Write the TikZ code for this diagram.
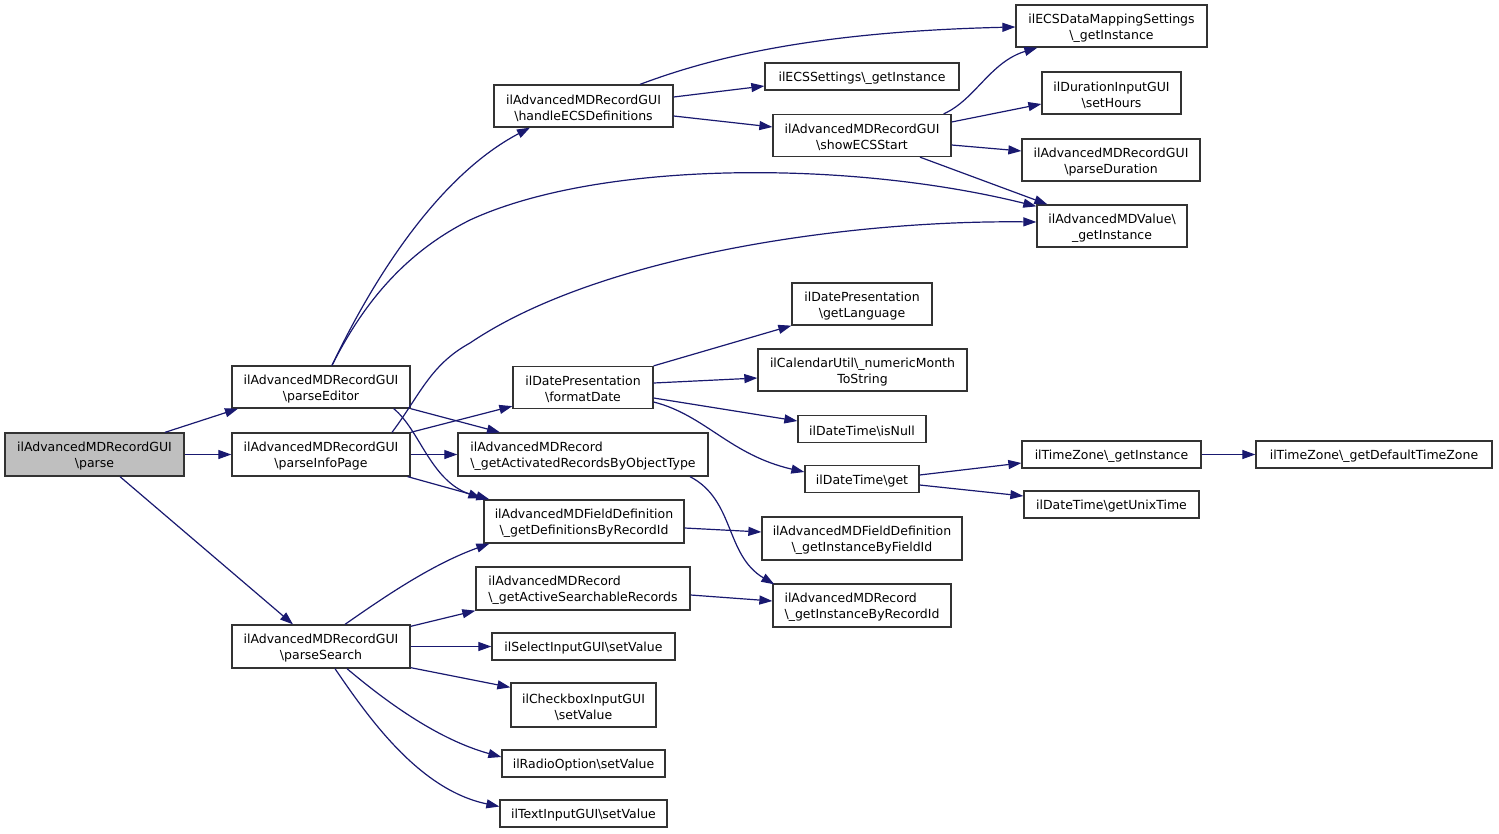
\documentclass[tikz,border=0pt]{standalone}
\usepackage{fontspec}
\setmainfont{DejaVu Sans}
\usetikzlibrary{arrows.meta,calc}
\definecolor{edgeblue}{RGB}{25,25,112}
\definecolor{rootgray}{RGB}{191,191,191}
\newcommand\bsl{\textbackslash}
\begin{document}
\begin{tikzpicture}[x=1pt,y=-1pt,
  boxtext/.style={inner sep=0pt, align=center, font=\fontsize{12.5}{16}\selectfont, text=black, yshift=-2pt},
  lboxtext/.style={boxtext, align=left},
  box/.style={draw=black!80, line width=1.3pt, rectangle, inner sep=0pt, label={[boxtext]center:{#1}}},
  lbox/.style={draw=black!80, line width=1.3pt, rectangle, inner sep=0pt, label={[lboxtext]center:{#1}}},
  call/.style={draw=edgeblue, line width=1.2pt, -{Triangle[length=13pt,width=9pt]}}
]
\fill[white] (0,0) rectangle (1499,833);
\useasboundingbox (0,0) rectangle (1499,833);

% nodes
\node[box={ilAdvancedMDRecordGUI\\\bsl parse}, fill=rootgray, minimum width=179pt, minimum height=43pt] (parse) at (94.5,454.5) {};
\node[box={ilAdvancedMDRecordGUI\\\bsl parseEditor}, minimum width=178pt, minimum height=42pt] (pEditor) at (321,387) {};
\node[box={ilAdvancedMDRecordGUI\\\bsl parseInfoPage}, minimum width=178pt, minimum height=43pt] (pInfo) at (321,454.5) {};
\node[box={ilAdvancedMDRecordGUI\\\bsl parseSearch}, minimum width=178pt, minimum height=43pt] (pSearch) at (321,646.5) {};
\node[box={ilAdvancedMDRecordGUI\\\bsl handleECSDefinitions}, minimum width=179pt, minimum height=42pt] (handleECS) at (583.5,106) {};
\node[box={ilECSSettings\bsl\_getInstance}, minimum width=194pt, minimum height=27pt] (ecss) at (862,76.5) {};
\node[box={ilAdvancedMDRecordGUI\\\bsl showECSStart}, minimum width=178pt, minimum height=42pt] (showECS) at (862,135.5) {};
\node[box={ilECSDataMappingSettings\\\bsl\_getInstance}, minimum width=191pt, minimum height=42pt] (ecsdm) at (1111.5,26) {};
\node[box={ilDurationInputGUI\\\bsl setHours}, minimum width=139pt, minimum height=42pt] (setHours) at (1111.5,93) {};
\node[box={ilAdvancedMDRecordGUI\\\bsl parseDuration}, minimum width=178pt, minimum height=42pt] (parseDuration) at (1111,160) {};
\node[box={ilAdvancedMDValue\bsl\\\_getInstance}, minimum width=150pt, minimum height=42pt] (mdvalue) at (1112,226) {};
\node[box={ilDatePresentation\\\bsl getLanguage}, minimum width=140pt, minimum height=42pt] (getLang) at (862,304) {};
\node[box={ilCalendarUtil\bsl\_numericMonth\\ToString}, minimum width=209pt, minimum height=42pt] (numMonth) at (862.5,370) {};
\node[box={ilDatePresentation\\\bsl formatDate}, minimum width=140pt, minimum height=42pt] (formatDate) at (583,387.5) {};
\node[box={ilDateTime\bsl isNull}, minimum width=128pt, minimum height=27pt] (isNull) at (862,429) {};
\node[box={ilDateTime\bsl get}, minimum width=114pt, minimum height=27pt] (dtget) at (862,479) {};
\node[box={ilTimeZone\bsl\_getInstance}, minimum width=179pt, minimum height=27pt] (tzget) at (1111.5,454.5) {};
\node[box={ilTimeZone\bsl\_getDefaultTimeZone}, minimum width=236pt, minimum height=27pt] (tzdefault) at (1374,454.5) {};
\node[box={ilDateTime\bsl getUnixTime}, minimum width=175pt, minimum height=27pt] (unixtime) at (1111.5,504.5) {};
\node[lbox={ilAdvancedMDRecord\\\bsl\_getActivatedRecordsByObjectType}, minimum width=250pt, minimum height=43pt] (getAct) at (583,454.5) {};
\node[box={ilAdvancedMDFieldDefinition\\\bsl\_getDefinitionsByRecordId}, minimum width=200pt, minimum height=43pt] (getDefs) at (584,521.5) {};
\node[box={ilAdvancedMDFieldDefinition\\\bsl\_getInstanceByFieldId}, minimum width=200pt, minimum height=43pt] (getInstField) at (862,538.5) {};
\node[lbox={ilAdvancedMDRecord\\\bsl\_getActiveSearchableRecords}, minimum width=214pt, minimum height=43pt] (getActSearch) at (583,588.5) {};
\node[lbox={ilAdvancedMDRecord\\\bsl\_getInstanceByRecordId}, minimum width=178pt, minimum height=43pt] (getInstRec) at (862,605.5) {};
\node[box={ilSelectInputGUI\bsl setValue}, minimum width=183pt, minimum height=27pt] (selectIn) at (583.5,646.5) {};
\node[box={ilCheckboxInputGUI\\\bsl setValue}, minimum width=145pt, minimum height=44pt] (checkbox) at (583.5,705) {};
\node[box={ilRadioOption\bsl setValue}, minimum width=163pt, minimum height=27pt] (radio) at (583.5,763.5) {};
\node[box={ilTextInputGUI\bsl setValue}, minimum width=167pt, minimum height=27pt] (textin) at (583.5,813.5) {};

% edges
\draw[call] ($(parse.north)+(70.5,0)$) -- ($(pEditor.south)+(-83,0)$);
\draw[call] (parse.east) -- (pInfo.west);
\draw[call] ($(parse.south)+(25.5,0)$) -- ($(pSearch.north)+(-28,0)$);

\draw[call] ($(pEditor.north)+(11,0)$) .. controls (375,275) and (440,175) .. ($(handleECS.south)+(-53.5,0)$);
\draw[call] ($(pEditor.north)+(11,0)$) .. controls (360,310) and (400,255) .. (470,220) .. controls (600,160) and (850,160) .. ($(mdvalue.north west)+(0,2)$);
\draw[call] (pEditor.south east) -- ($(getAct.north)+(-83,0)$);
\draw[call] ($(pEditor.south east)+(-17,0)$) .. controls (420,430) and (430,480) .. ($(getDefs.north west)+(-2,-1)$);

\draw[call] (pInfo.north east) -- ($(formatDate.south west)+(0,-3)$);
\draw[call] (pInfo.east) -- (getAct.west);
\draw[call] ($(pInfo.south east)+(-3,0)$) -- ($(getDefs.north west)+(6,0)$);
\draw[call] ($(pInfo.north)+(71,0)$) .. controls (420,395) and (430,365) .. (470,343) .. controls (600,255) and (850,220) .. ($(mdvalue.west)+(0,-4)$);

\draw[call] ($(pSearch.north)+(24,0)$) .. controls (380,600) and (430,565) .. ($(getDefs.south west)+(6,0)$);
\draw[call] ($(pSearch.north east)+(0,2)$) -- (getActSearch.south west);
\draw[call] (pSearch.east) -- (selectIn.west);
\draw[call] ($(pSearch.south east)+(0,-1)$) -- ($(checkbox.north west)+(0,5)$);
\draw[call] ($(pSearch.south)+(26,0)$) .. controls (390,705) and (440,740) .. ($(radio.west)+(0,-6.5)$);
\draw[call] ($(pSearch.south)+(14,0)$) .. controls (370,720) and (420,790) .. ($(textin.west)+(0,-7)$);

\draw[call] ($(handleECS.north)+(56.5,0)$) .. controls (700,62) and (800,32) .. ($(ecsdm.west)+(0,1)$);
\draw[call] ($(handleECS.east)+(0,-9)$) -- ($(ecss.west)+(0,9.5)$);
\draw[call] ($(handleECS.east)+(0,10)$) -- ($(showECS.west)+(0,-8.5)$);

\draw[call] ($(showECS.north east)+(-8,0)$) .. controls (975,100) and (990,62) .. ($(ecsdm.south west)+(22,0)$);
\draw[call] ($(showECS.east)+(0,-13.5)$) -- ($(setHours.west)+(0,11)$);
\draw[call] ($(showECS.east)+(0,9.5)$) -- ($(parseDuration.west)+(0,-9)$);
\draw[call] ($(showECS.south)+(58,0)$) -- ($(mdvalue.north west)+(11,0)$);

\draw[call] (formatDate.north east) -- (getLang.south west);
\draw[call] ($(formatDate.east)+(0,-4.5)$) -- ($(numMonth.west)+(0,8)$);
\draw[call] ($(formatDate.east)+(0,10.5)$) -- ($(isNull.west)+(0,-8)$);
\draw[call] ($(formatDate.east)+(0,14.5)$) .. controls (705,415) and (730,455) .. ($(dtget.west)+(0,-7)$);

\draw[call] ($(getAct.south)+(107,0)$) .. controls (735,500) and (725,555) .. ($(getInstRec.north west)+(2,1)$);
\draw[call] ($(getDefs.east)+(0,6.5)$) -- ($(getInstField.west)+(0,-6.5)$);
\draw[call] ($(getActSearch.east)+(0,6.5)$) -- ($(getInstRec.west)+(0,-4.5)$);

\draw[call] ($(dtget.east)+(0,-4)$) -- ($(tzget.west)+(0,8.5)$);
\draw[call] ($(dtget.east)+(0,6)$) -- ($(unixtime.west)+(0,-8.5)$);
\draw[call] (tzget.east) -- (tzdefault.west);
\end{tikzpicture}
\end{document}
